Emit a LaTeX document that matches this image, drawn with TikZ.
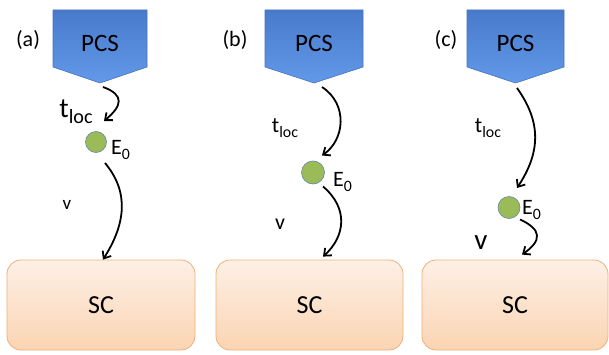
\documentclass[tikz,border=0pt]{standalone}
\usepackage{fontspec}
\setmainfont{Carlito}
\usetikzlibrary{arrows.meta,calc}
\definecolor{pcsTop}{RGB}{72,122,204}
\definecolor{pcsBot}{RGB}{98,153,232}
\definecolor{pcsLine}{RGB}{70,115,190}
\definecolor{scTop}{RGB}{253,240,230}
\definecolor{scBot}{RGB}{251,212,178}
\definecolor{scLine}{RGB}{238,176,122}
\definecolor{eFill}{RGB}{155,187,89}
\definecolor{eLine}{RGB}{100,135,165}
\newcommand{\lowsub}[1]{\raisebox{-0.45ex}{\scalebox{0.72}{#1}}}
\begin{document}
\begin{tikzpicture}[x=1pt,y=1pt,
  pcsshape/.style={draw=pcsLine, line width=0.6pt, top color=pcsTop, bottom color=pcsBot},
  pcslabel/.style={font=\fontsize{25}{25}\selectfont, text=black, inner sep=0pt},
  scbox/.style={draw=scLine, line width=0.8pt, rounded corners=14pt, top color=scTop, bottom color=scBot, minimum height=90pt, font=\fontsize{26}{26}\selectfont, inner sep=0pt},
  enode/.style={circle, draw=eLine, fill=eFill, line width=0.6pt, inner sep=0pt},
  conn/.style={-{Straight Barb[length=6pt,width=10pt]}, line width=1.8pt},
  panel/.style={font=\fontsize{22}{22}\selectfont, inner sep=0pt},
  elabel/.style={font=\fontsize{22}{22}\selectfont, inner sep=0pt, anchor=west},
]
\useasboundingbox (0,0) rectangle (609,354);

% ---------- panel (a) ----------
\path[pcsshape] (53,344) -- (147,344) -- (147,287) -- (100,271) -- (53,287) -- cycle;
\node[pcslabel] (pcsA) at (100,311) {PCS};
\node[panel] (labA) at (28,314) {(a)};
\node[scbox, minimum width=188pt] (scA) at (101,49) {SC};
\node[enode, minimum size=21pt] (eA) at (96,212) {};
\node[elabel] (EA) at (111,204) {E\lowsub{0}};
\node[font=\fontsize{28}{28}\selectfont, inner sep=0pt] (tA) at (76,242) {t\lowsub{loc}};
\node[font=\fontsize{19}{19}\selectfont, inner sep=0pt] (vA) at (67,149) {v};
\coordinate (sA) at (103,267);
\draw[conn] (sA) .. controls +(22,-8) and +(18,15) .. ($(eA)+(8,21)$);
\draw[conn] ($(eA)+(9,-21)$) .. controls +(25,-30) and +(22,35) .. ($(scA.north)+(2,0)$);

% ---------- panel (b) ----------
\path[pcsshape] (265,344) -- (363,344) -- (363,287) -- (314,271) -- (265,287) -- cycle;
\node[pcslabel] (pcsB) at (314,311) {PCS};
\node[panel] (labB) at (235,314) {(b)};
\node[scbox, minimum width=187pt] (scB) at (309.5,49) {SC};
\node[enode, minimum size=23pt] (eB) at (313,181.5) {};
\node[elabel] (EB) at (333,172) {E\lowsub{0}};
\node[font=\fontsize{22}{22}\selectfont, inner sep=0pt] (tB) at (285,226) {t\lowsub{loc}};
\node[font=\fontsize{22}{22}\selectfont, inner sep=0pt] (vB) at (280,130) {v};
\coordinate (sB) at (322,267);
\draw[conn] (sB) .. controls +(26,-17) and +(23,16) .. ($(eB)+(9,17)$);
\draw[conn] ($(eB)+(10,-14)$) .. controls +(26,-22) and +(22,20) .. ($(scB.north)+(13.5,3)$);

% ---------- panel (c) ----------
\path[pcsshape] (467,344) -- (564,344) -- (564,287) -- (515.5,271) -- (467,287) -- cycle;
\node[pcslabel] (pcsC) at (515.5,311) {PCS};
\node[panel] (labC) at (446,314) {(c)};
\node[scbox, minimum width=186pt] (scC) at (515,49) {SC};
\node[enode, minimum size=22pt] (eC) at (509,146.5) {};
\node[elabel] (EC) at (522,144) {E\lowsub{0}};
\node[font=\fontsize{22}{22}\selectfont, inner sep=0pt] (tC) at (488,226) {t\lowsub{loc}};
\node[font=\fontsize{29}{29}\selectfont, inner sep=0pt] (vC) at (481,111) {v};
\coordinate (sC) at (517,266);
\draw[conn] (sC) .. controls +(25,-35) and +(23,35) .. ($(eC)+(8,19.5)$);
\draw[conn] ($(eC)+(11,-12)$) .. controls +(22,-10) and +(20,14) .. ($(scC.north)+(7,5)$);
\end{tikzpicture}
\end{document}
